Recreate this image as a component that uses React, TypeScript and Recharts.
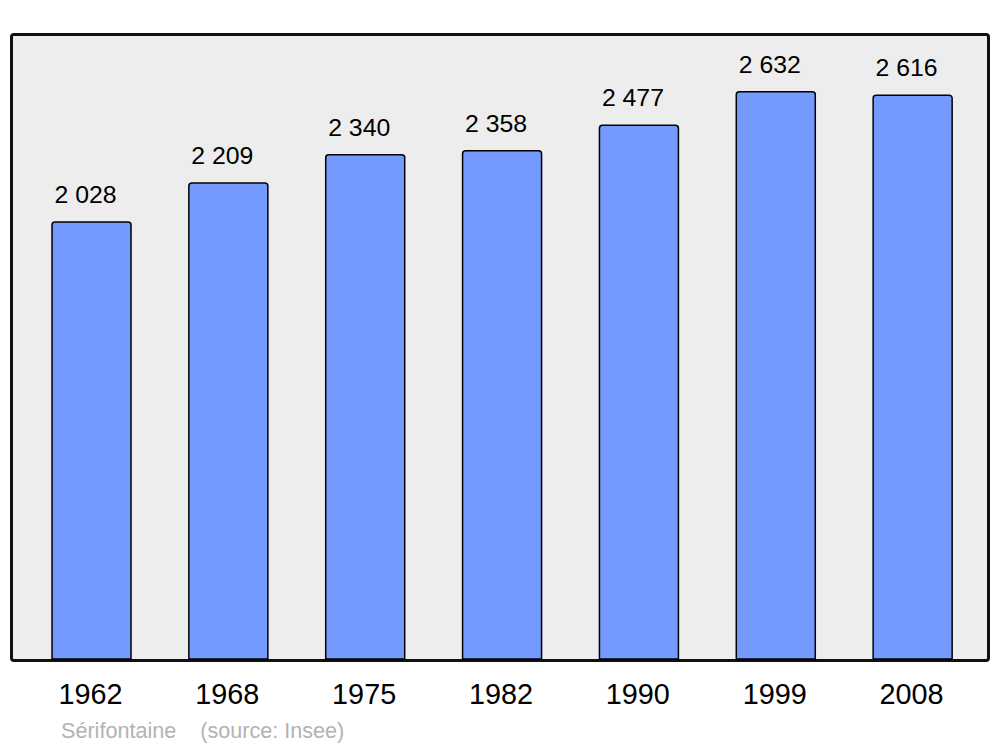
import { Bar, BarChart, LabelList, XAxis, YAxis } from "recharts";

const years = ["1962", "1968", "1975", "1982", "1990", "1999", "2008"];
const population = [2028, 2209, 2340, 2358, 2477, 2632, 2616];

const data = years.map((year, i) => ({ year, value: population[i] }));

const formatPop = (v: number) => {
  const s = String(v);
  return s.length > 3 ? s.slice(0, s.length - 3) + " " + s.slice(-3) : s;
};

function YearTick(props: any) {
  const { x, y, payload } = props;
  return (
    <text
      x={x - 1}
      y={y + 45}
      textAnchor="middle"
      fontSize={28.8}
      fontFamily="Liberation Sans, Arial, sans-serif"
      fill="#000"
    >
      {payload.value}
    </text>
  );
}

export default function App() {
  return (
    <div style={{ position: "absolute", left: 0, top: 0, width: 1000, height: 747, background: "#fff" }}>
      <div
        style={{
          position: "absolute",
          left: 10,
          top: 32.5,
          width: 980,
          height: 629,
          boxSizing: "border-box",
          border: "3px solid #111",
          borderRadius: 4,
          background: "#ededed",
        }}
      />
      <div style={{ position: "absolute", left: 0, top: 0 }}>
        <BarChart
          width={1000}
          height={747}
          data={data}
          margin={{ top: 34, right: 19, bottom: 0, left: 23 }}
          barSize={79}
        >
          <XAxis
            dataKey="year"
            axisLine={false}
            tickLine={false}
            tickSize={0}
            tickMargin={0}
            height={88}
            interval={0}
            tick={<YearTick />}
          />
          <YAxis hide domain={[0, 2900]} />
          <Bar
            dataKey="value"
            fill="#7499ff"
            stroke="#000"
            strokeWidth={1.5}
            radius={[3, 3, 0, 0]}
            isAnimationActive={false}
          >
            <LabelList
              dataKey="value"
              position="top"
              offset={19}
              dx={-6}
              formatter={(v: any) => formatPop(Number(v))}
              style={{ fontSize: 24.8, fontFamily: "Liberation Sans, Arial, sans-serif", fill: "#000" }}
            />
          </Bar>
        </BarChart>
      </div>
      <div
        style={{
          position: "absolute",
          left: 61,
          top: 718,
          fontSize: 21.6,
          fontFamily: "Liberation Sans, Arial, sans-serif",
          color: "#b3b3b3",
          whiteSpace: "pre",
          lineHeight: "26px",
        }}
      >
        {"Sérifontaine    (source: Insee)"}
      </div>
    </div>
  );
}
